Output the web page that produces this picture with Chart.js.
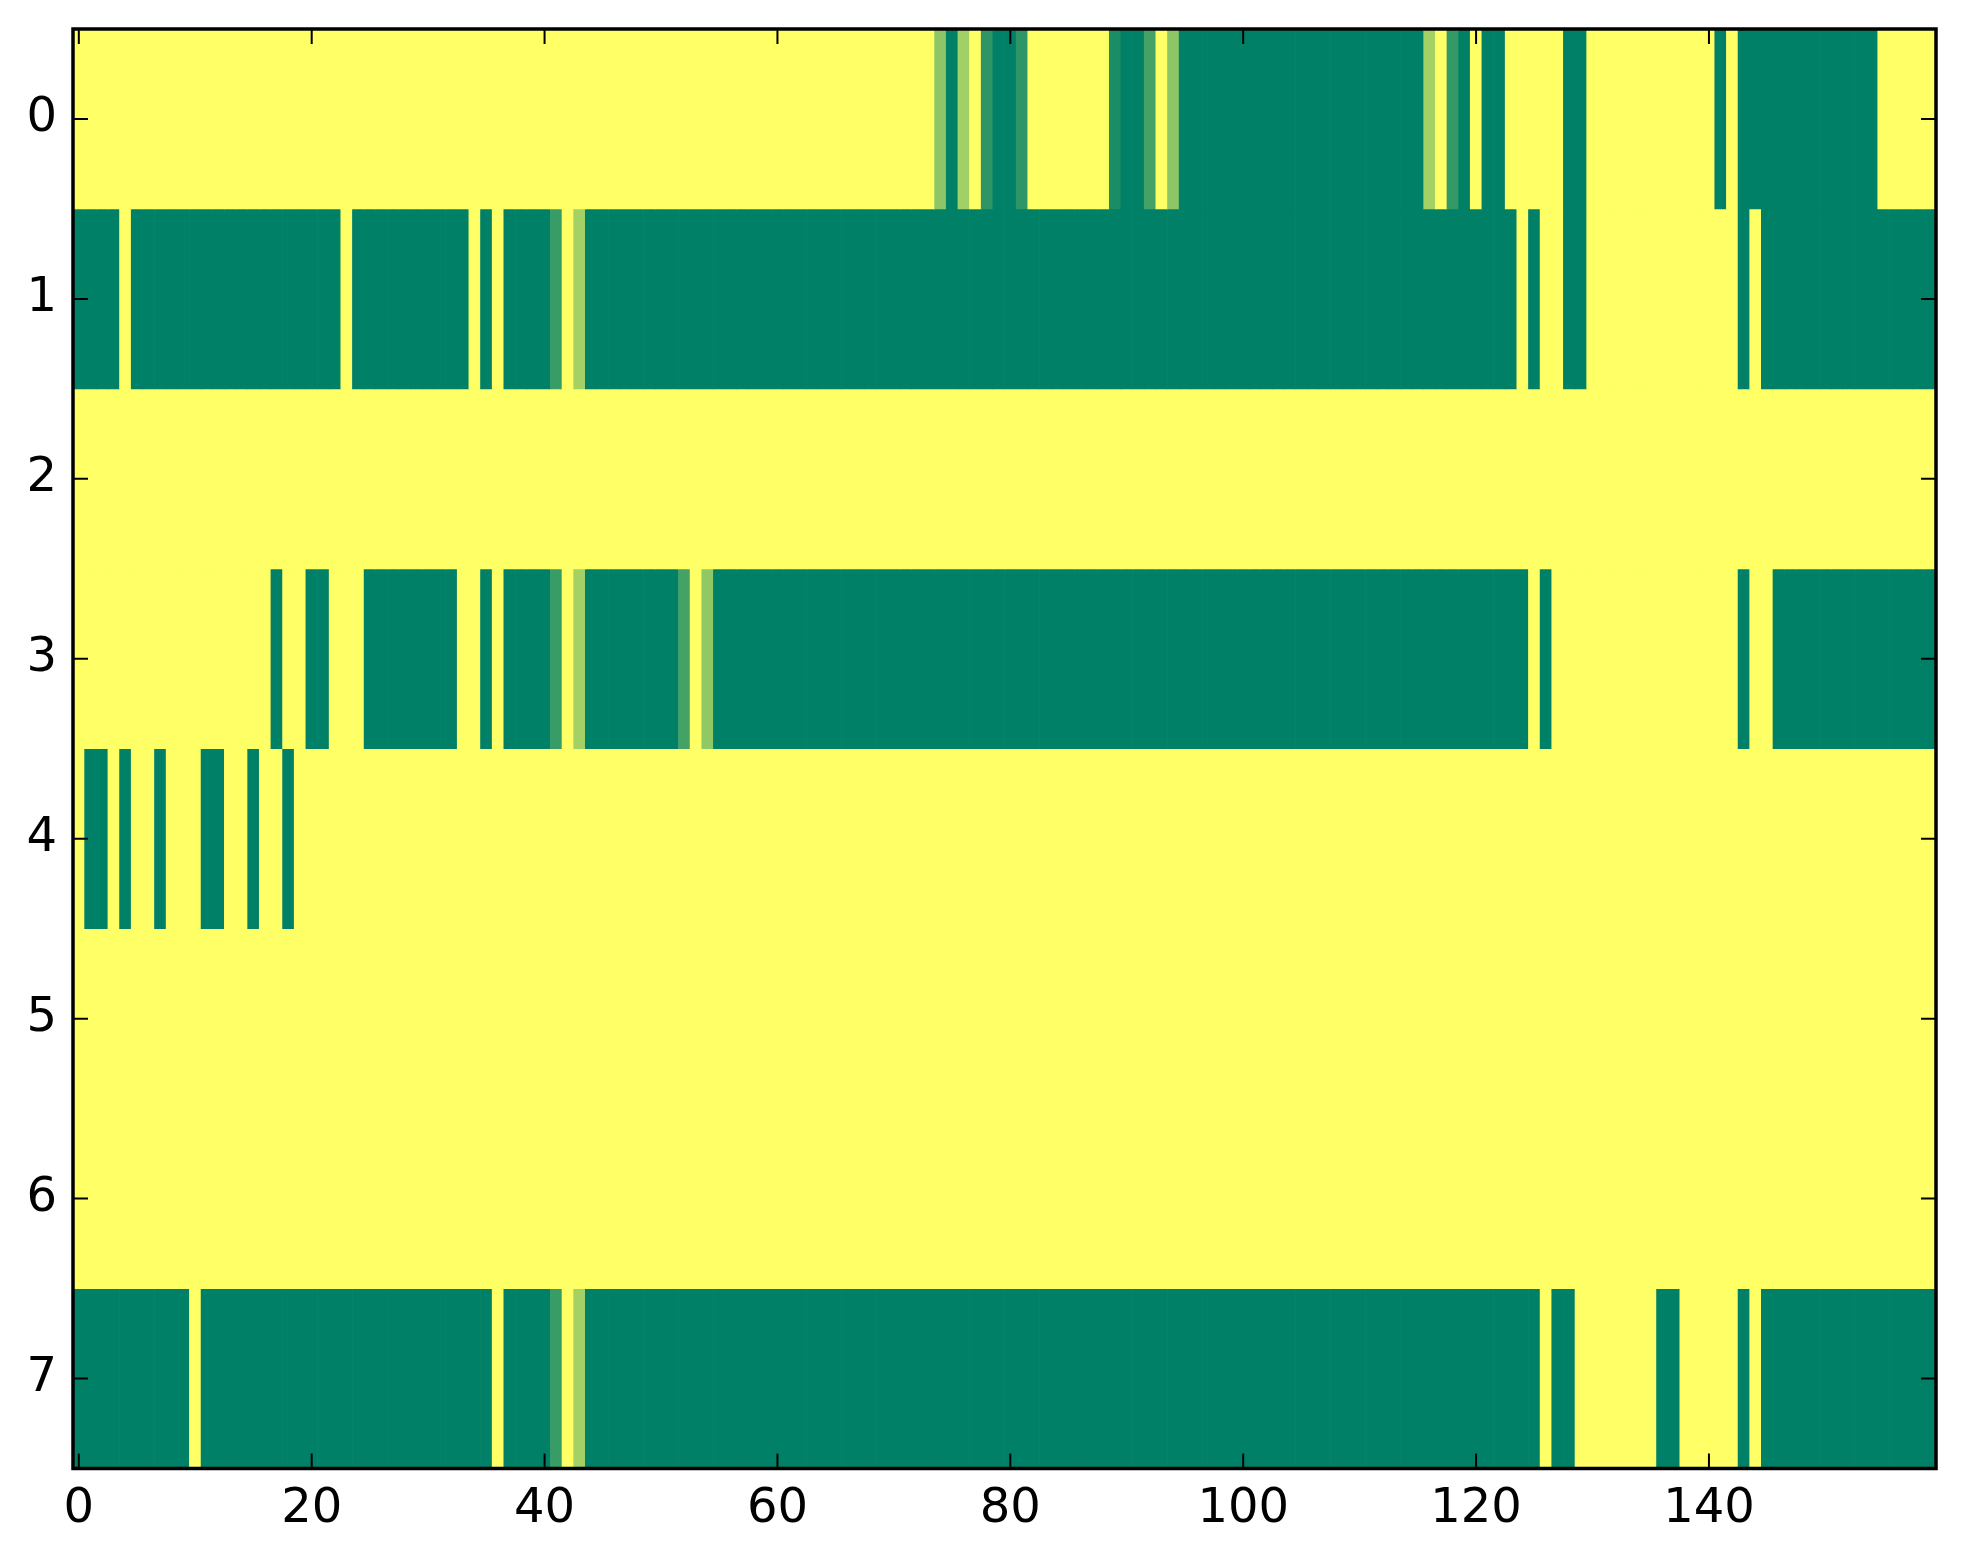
<!DOCTYPE html>
<html>
<head>
<meta charset="utf-8">
<script src="https://cdn.jsdelivr.net/npm/chart.js@4"></script>
<style>
  html, body { margin: 0; padding: 0; background: #ffffff; }
  #wrap { width: 1963px; height: 1564px; }
</style>
</head>
<body>
<div id="wrap"><canvas id="mapa"></canvas></div>
<script>
// values per row, one per column (0 = dark green, 1 = yellow)
fila0 = [1,1,1,1,1,1,1,1,1,1,1,1,1,1,1,1,1,1,1,1,
         1,1,1,1,1,1,1,1,1,1,1,1,1,1,1,1,1,1,1,1,
         1,1,1,1,1,1,1,1,1,1,1,1,1,1,1,1,1,1,1,1,
         1,1,1,1,1,1,1,1,1,1,1,1,1,1,0.55,0,0.63,1,0.18,0,
         0,0.18,1,1,1,1,1,1,1,0.1,0,0,0.27,1,0.55,0,0,0,0,0,
         0,0,0,0,0,0,0,0,0,0,0,0,0,0,0,0,0.64,1,0.2,0,
         1,0,0,1,1,1,1,1,0,0,1,1,1,1,1,1,1,1,1,1,
         1,0,1,0,0,0,0,0,0,0,0,0,0,0,0,1,1,1,1,1]
fila1 = [0,0,0,0,1,0,0,0,0,0,0,0,0,0,0,0,0,0,0,0,
         0,0,0,1,0,0,0,0,0,0,0,0,0,0,1,0,1,0,0,0,
         0,0.22,1,0.64,0,0,0,0,0,0,0,0,0,0,0,0,0,0,0,0,
         0,0,0,0,0,0,0,0,0,0,0,0,0,0,0,0,0,0,0,0,
         0,0,0,0,0,0,0,0,0,0,0,0,0,0,0,0,0,0,0,0,
         0,0,0,0,0,0,0,0,0,0,0,0,0,0,0,0,0,0,0,0,
         0,0,0,0,1,0,1,1,0,0,1,1,1,1,1,1,1,1,1,1,
         1,1,1,0,1,0,0,0,0,0,0,0,0,0,0,0,0,0,0,0]
fila2 = [1,1,1,1,1,1,1,1,1,1,1,1,1,1,1,1,1,1,1,1,
         1,1,1,1,1,1,1,1,1,1,1,1,1,1,1,1,1,1,1,1,
         1,1,1,1,1,1,1,1,1,1,1,1,1,1,1,1,1,1,1,1,
         1,1,1,1,1,1,1,1,1,1,1,1,1,1,1,1,1,1,1,1,
         1,1,1,1,1,1,1,1,1,1,1,1,1,1,1,1,1,1,1,1,
         1,1,1,1,1,1,1,1,1,1,1,1,1,1,1,1,1,1,1,1,
         1,1,1,1,1,1,1,1,1,1,1,1,1,1,1,1,1,1,1,1,
         1,1,1,1,1,1,1,1,1,1,1,1,1,1,1,1,1,1,1,1]
fila3 = [1,1,1,1,1,1,1,1,1,1,1,1,1,1,1,1,1,0,1,1,
         0,0,1,1,1,0,0,0,0,0,0,0,0,1,1,0,1,0,0,0,
         0,0.22,1,0.64,0,0,0,0,0,0,0,0,0.27,1,0.57,0,0,0,0,0,
         0,0,0,0,0,0,0,0,0,0,0,0,0,0,0,0,0,0,0,0,
         0,0,0,0,0,0,0,0,0,0,0,0,0,0,0,0,0,0,0,0,
         0,0,0,0,0,0,0,0,0,0,0,0,0,0,0,0,0,0,0,0,
         0,0,0,0,0,1,0,1,1,1,1,1,1,1,1,1,1,1,1,1,
         1,1,1,0,1,1,0,0,0,0,0,0,0,0,0,0,0,0,0,0]
fila4 = [1,0,0,1,0,1,1,0,1,1,1,0,0,1,1,0,1,1,0,1,
         1,1,1,1,1,1,1,1,1,1,1,1,1,1,1,1,1,1,1,1,
         1,1,1,1,1,1,1,1,1,1,1,1,1,1,1,1,1,1,1,1,
         1,1,1,1,1,1,1,1,1,1,1,1,1,1,1,1,1,1,1,1,
         1,1,1,1,1,1,1,1,1,1,1,1,1,1,1,1,1,1,1,1,
         1,1,1,1,1,1,1,1,1,1,1,1,1,1,1,1,1,1,1,1,
         1,1,1,1,1,1,1,1,1,1,1,1,1,1,1,1,1,1,1,1,
         1,1,1,1,1,1,1,1,1,1,1,1,1,1,1,1,1,1,1,1]
fila5 = [1,1,1,1,1,1,1,1,1,1,1,1,1,1,1,1,1,1,1,1,
         1,1,1,1,1,1,1,1,1,1,1,1,1,1,1,1,1,1,1,1,
         1,1,1,1,1,1,1,1,1,1,1,1,1,1,1,1,1,1,1,1,
         1,1,1,1,1,1,1,1,1,1,1,1,1,1,1,1,1,1,1,1,
         1,1,1,1,1,1,1,1,1,1,1,1,1,1,1,1,1,1,1,1,
         1,1,1,1,1,1,1,1,1,1,1,1,1,1,1,1,1,1,1,1,
         1,1,1,1,1,1,1,1,1,1,1,1,1,1,1,1,1,1,1,1,
         1,1,1,1,1,1,1,1,1,1,1,1,1,1,1,1,1,1,1,1]
fila6 = [1,1,1,1,1,1,1,1,1,1,1,1,1,1,1,1,1,1,1,1,
         1,1,1,1,1,1,1,1,1,1,1,1,1,1,1,1,1,1,1,1,
         1,1,1,1,1,1,1,1,1,1,1,1,1,1,1,1,1,1,1,1,
         1,1,1,1,1,1,1,1,1,1,1,1,1,1,1,1,1,1,1,1,
         1,1,1,1,1,1,1,1,1,1,1,1,1,1,1,1,1,1,1,1,
         1,1,1,1,1,1,1,1,1,1,1,1,1,1,1,1,1,1,1,1,
         1,1,1,1,1,1,1,1,1,1,1,1,1,1,1,1,1,1,1,1,
         1,1,1,1,1,1,1,1,1,1,1,1,1,1,1,1,1,1,1,1]
fila7 = [0,0,0,0,0,0,0,0,0,0,1,0,0,0,0,0,0,0,0,0,
         0,0,0,0,0,0,0,0,0,0,0,0,0,0,0,0,1,0,0,0,
         0,0.22,1,0.64,0,0,0,0,0,0,0,0,0,0,0,0,0,0,0,0,
         0,0,0,0,0,0,0,0,0,0,0,0,0,0,0,0,0,0,0,0,
         0,0,0,0,0,0,0,0,0,0,0,0,0,0,0,0,0,0,0,0,
         0,0,0,0,0,0,0,0,0,0,0,0,0,0,0,0,0,0,0,0,
         0,0,0,0,0,0,1,0,0,1,1,1,1,1,1,1,0,0,1,1,
         1,1,1,0,1,0,0,0,0,0,0,0,0,0,0,0,0,0,0,0]

filas = [fila0, fila1, fila2, fila3, fila4, fila5, fila6, fila7]
ticksX = [0, 20, 40, 60, 80, 100, 120, 140]
ticksY = [0, 1, 2, 3, 4, 5, 6, 7]

// matplotlib "summer" colormap
function verano(v)
{
	var r = Math.round(255 * v);
	var g = Math.round(255 * (0.5 + 0.5 * v));
	return "rgb(" + r + "," + g + ",102)";
}

var conjuntos = filas.map(function(fila, r) {
	return {
		data: fila.map(function(v, i) { return {x: i, y: [r - 0.5, r + 0.5]}; }),
		backgroundColor: fila.map(verano),
		borderWidth: 0,
		barPercentage: 1,
		categoryPercentage: 1,
		grouped: false
	};
});

// frame and inward ticks on the four sides, like matplotlib classic
var marco = {
	id: "marco",
	afterDraw: function(chart) {
		var ctx = chart.ctx, a = chart.chartArea;
		var sx = chart.scales.x, sy = chart.scales.y;
		ctx.save();
		ctx.strokeStyle = "#000";
		ctx.lineWidth = 2;
		ctx.beginPath();
		ticksX.forEach(function(t) {
			var px = sx.getPixelForValue(t);
			ctx.moveTo(px, a.bottom); ctx.lineTo(px, a.bottom - 15);
			ctx.moveTo(px, a.top); ctx.lineTo(px, a.top + 15);
		});
		ticksY.forEach(function(t) {
			var py = sy.getPixelForValue(t);
			ctx.moveTo(a.left, py); ctx.lineTo(a.left + 15, py);
			ctx.moveTo(a.right, py); ctx.lineTo(a.right - 15, py);
		});
		ctx.stroke();
		ctx.lineWidth = 3.5;
		ctx.strokeRect(a.left, a.top, a.right - a.left, a.bottom - a.top);
		ctx.restore();
	}
};

new Chart(document.getElementById("mapa").getContext("2d"), {
	type: "bar",
	data: {datasets: conjuntos},
	options: {
		responsive: true,
		maintainAspectRatio: false,
		animation: false,
		layout: {padding: {left: 0, top: 29, right: 27, bottom: 0}},
		plugins: {legend: {display: false}, tooltip: {enabled: false}},
		scales: {
			x: {
				type: "linear",
				offset: false,
				min: -0.5,
				max: 159.5,
				grid: {display: false, drawTicks: false, offset: false},
				border: {display: false},
				afterBuildTicks: function(s) { s.ticks = ticksX.map(function(v) { return {value: v}; }); },
				afterFit: function(s) { s.height = 95.5; s.paddingLeft = 0; s.paddingRight = 0; },
				ticks: {color: "#000", padding: 12, maxRotation: 0, font: {family: "DejaVu Sans", size: 48}}
			},
			y: {
				type: "linear",
				reverse: true,
				min: -0.5,
				max: 7.5,
				grid: {display: false, drawTicks: false},
				border: {display: false},
				afterBuildTicks: function(s) { s.ticks = ticksY.map(function(v) { return {value: v}; }); },
				afterFit: function(s) { s.width = 73; s.paddingTop = 0; s.paddingBottom = 0; },
				ticks: {color: "#000", padding: 16, font: {family: "DejaVu Sans", size: 48}}
			}
		}
	},
	plugins: [marco]
});
</script>
</body>
</html>
